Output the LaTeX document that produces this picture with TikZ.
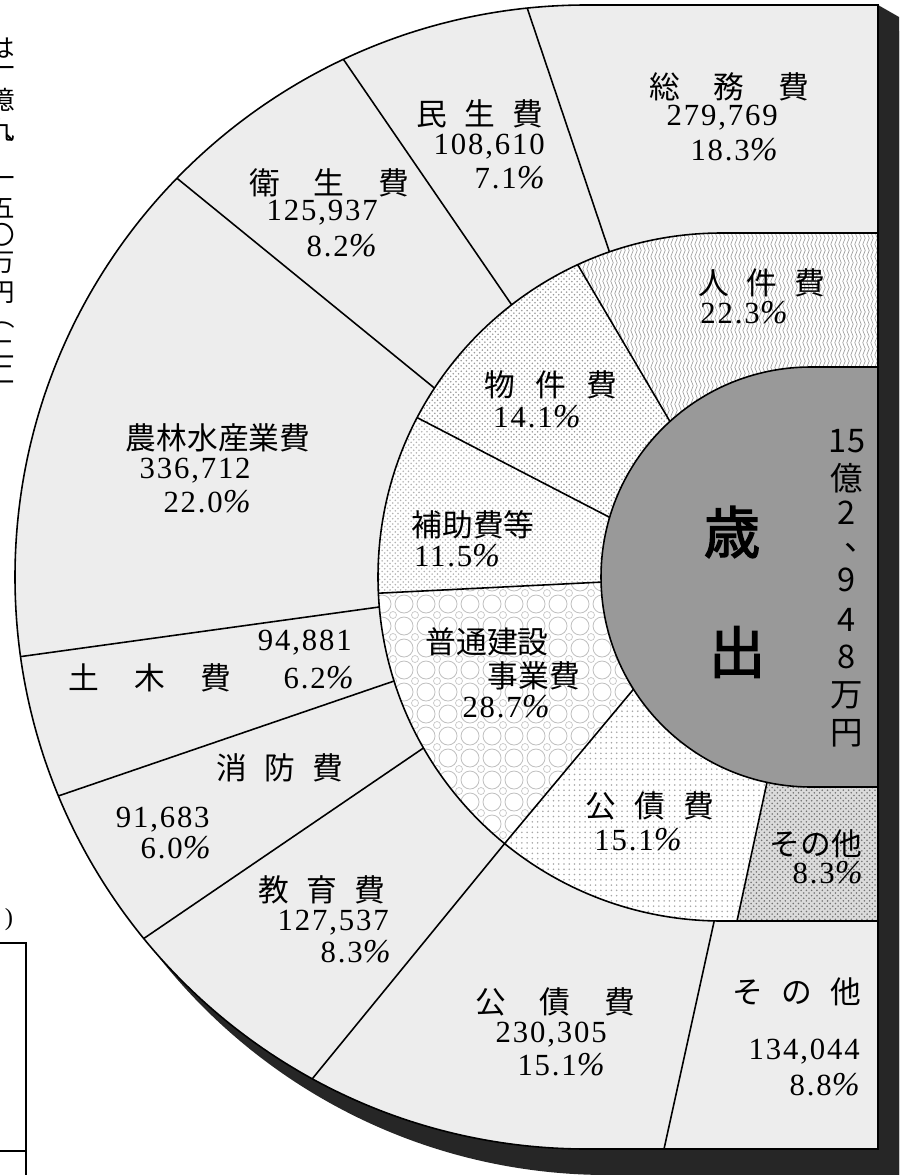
\documentclass[tikz,border=0pt]{standalone}
\usepackage{fontspec}
\setmainfont{Liberation Serif}
\newfontfamily\jp{Noto Sans CJK JP}
\newfontfamily\jpbold[FakeBold=2.5]{Noto Sans CJK JP}
\newfontfamily\numf[LetterSpace=6]{Liberation Serif}
\newcommand\pct{{\fontsize{19}{20}\selectfont\itshape\%}}
\usetikzlibrary{patterns,decorations.pathmorphing}

\def\pOuter{(878,5) -- (587,5) arc[start angle=270, end angle=90, radius=572] -- (878,1149) -- cycle}
\def\pMid{(878,233) -- (722,233) arc[start angle=270, end angle=90, radius=344] -- (878,921) -- cycle}
\def\pInner{(878,367) -- (811,367) arc[start angle=270, end angle=90, radius=210] -- (878,787) -- cycle}
\def\pJin{(878,233) -- (722,233) arc[start angle=270, end angle=245.2, radius=344] -- ([shift={(811,577)}]227.8:210) arc[start angle=227.8, end angle=270, radius=210] -- (878,367) -- cycle}
\def\pBukken{([shift={(722,577)}]245.2:344) arc[start angle=245.2, end angle=207.6, radius=344] -- ([shift={(811,577)}]196.5:210) arc[start angle=196.5, end angle=227.8, radius=210] -- cycle}
\def\pHojo{([shift={(722,577)}]207.6:344) arc[start angle=207.6, end angle=177.3, radius=344] -- ([shift={(811,577)}]178.6:210) arc[start angle=178.6, end angle=196.5, radius=210] -- cycle}
\def\pFutsu{([shift={(722,577)}]177.3:344) arc[start angle=177.3, end angle=129.2, radius=344] -- ([shift={(811,577)}]147.7:210) arc[start angle=147.7, end angle=178.6, radius=210] -- cycle}
\def\pKosai{([shift={(722,577)}]129.2:344) arc[start angle=129.2, end angle=90, radius=344] -- (737,921) -- ([shift={(811,577)}]102.1:210) arc[start angle=102.1, end angle=147.7, radius=210] -- cycle}
\def\pSonota{(737,921) -- (878,921) -- (878,787) -- (811,787) arc[start angle=90, end angle=102.1, radius=210] -- cycle}

\tikzset{
  lab/.style={font=\jp\fontsize{17.5}{20}\selectfont, inner sep=0pt},
  num/.style={font=\numf\fontsize{17.5}{20}\selectfont, inner sep=0pt},
  seg/.style={line width=0.9pt, draw=black},
  vtxt/.style={font=\jp\fontsize{18.5}{20}\selectfont, inner sep=0pt},
  lefttxt/.style={font=\jp\fontsize{14.5}{16}\selectfont, inner sep=0pt},
  big/.style={font=\jpbold\fontsize{32}{34}\selectfont, inner sep=0pt},
  shadowc/.style={fill=black!85},
  ringfill/.style={fill=black!7},
}

\begin{document}
\begin{tikzpicture}[x=0.02cm, y=-0.02cm]
\useasboundingbox (0,0) rectangle (908,1175);
\fill[white] (0,0) rectangle (908,1175);

% left cut-off column of text
\foreach \c/\yy [count=\i] in {は/48, 一/72, 億/100, 九/130, ︑/145, 一/182, 五/208, 〇/235, 万/263, 円/293, ︵/325, 二/350, 二/375}
  \node[lefttxt] (lt\i) at (2,\yy) {\c};
\node[font=\fontsize{14}{16}\selectfont, inner sep=0pt] (paren) at (9,920) {)};
\coordinate (bxA) at (0,943);
\coordinate (bxB) at (26,943);
\coordinate (bxC) at (26,1175);
\coordinate (bxD) at (0,1151);
\coordinate (bxE) at (26,1151);
\draw[line width=1pt] (bxA) -- (bxB) -- (bxC);
\draw[line width=1pt] (bxD) -- (bxE);

% shadow
\begin{scope}[shift={(21,26)}]
  \fill[shadowc] \pOuter;
\end{scope}
\fill[shadowc] (878,5) -- (899,17) -- (899,1175) -- (878,1175) -- cycle;

% outer ring
\fill[ringfill] \pOuter;
\draw[seg] \pOuter;

% middle ring segments
\begin{scope}
  \clip \pJin;
  \fill[white] (540,220) rectangle (890,480);
  \foreach \x in {560,564,...,884}
    \draw[black!40, line width=0.35pt, decorate, decoration={snake, amplitude=0.7pt, segment length=7pt}] (\x,222) -- (\x,480);
\end{scope}
\fill[white] \pBukken;
\fill[pattern=crosshatch dots, pattern color=black!40] \pBukken;
\fill[white] \pHojo;
\fill[pattern=crosshatch dots, pattern color=black!30] \pHojo;
\begin{scope}
  \clip \pFutsu;
  \fill[white] (360,560) rectangle (660,870);
  \foreach \x in {360,382,...,660}
    \foreach \y in {560,582,...,870} {
      \draw[black!25, line width=0.45pt] (\x,\y) circle[radius=9];
      \draw[black!22, line width=0.4pt] (\x+11,\y+11) circle[radius=3.5];
    }
\end{scope}
\fill[white] \pKosai;
\fill[pattern=dots, pattern color=black!35] \pKosai;
\fill[black!14] \pSonota;
\fill[pattern=crosshatch dots, pattern color=black!55] \pSonota;
\draw[seg] \pMid;

% inner
\fill[black!40] \pInner;
\draw[seg] \pInner;

% outer dividers
\coordinate (L1o) at ([shift={(587,577)}]264.0:572);
\coordinate (L1m) at ([shift={(722,577)}]250.9:344);
\coordinate (L2o) at ([shift={(587,577)}]244.8:572);
\coordinate (L2m) at ([shift={(722,577)}]232.3:344);
\coordinate (L3o) at ([shift={(587,577)}]224.2:572);
\coordinate (L3m) at ([shift={(722,577)}]213.3:344);
\coordinate (L4o) at ([shift={(587,577)}]172.0:572);
\coordinate (L4m) at ([shift={(722,577)}]175.0:344);
\coordinate (L5o) at ([shift={(587,577)}]157.5:572);
\coordinate (L5m) at ([shift={(722,577)}]162.4:344);
\coordinate (L6o) at ([shift={(587,577)}]140.8:572);
\coordinate (L6m) at ([shift={(722,577)}]150.2:344);
\coordinate (L7o) at ([shift={(587,577)}]118.7:572);
\coordinate (L7m) at ([shift={(722,577)}]129.2:344);
\coordinate (L8o) at (664,1149);
\coordinate (L8m) at ([shift={(722,577)}]91.3:344);
\foreach \k in {1,...,8} \draw[seg] (L\k o) -- (L\k m);

% middle dividers
\coordinate (m1a) at ([shift={(722,577)}]245.2:344);
\coordinate (m1b) at ([shift={(811,577)}]227.8:210);
\coordinate (m2a) at ([shift={(722,577)}]207.6:344);
\coordinate (m2b) at ([shift={(811,577)}]196.5:210);
\coordinate (m3a) at ([shift={(722,577)}]177.3:344);
\coordinate (m3b) at ([shift={(811,577)}]178.6:210);
\coordinate (m4a) at ([shift={(722,577)}]129.2:344);
\coordinate (m4b) at ([shift={(811,577)}]147.7:210);
\coordinate (m5a) at (737,921);
\coordinate (m5b) at ([shift={(811,577)}]102.1:210);
\foreach \k in {1,...,5} \draw[seg] (m\k a) -- (m\k b);

% outer labels
\node[lab] (tSomu) at (729,87) {総\hspace{1.1em}務\hspace{1.1em}費};
\node[num, anchor=east] (nSomu) at (778,118) {279,769};
\node[num, anchor=east] (pSomu) at (778,150) {18.3\pct};
\node[lab] (tMinsei) at (480,114) {民\hspace{0.55em}生\hspace{0.55em}費};
\node[num, anchor=east] (nMinsei) at (545,147) {108,610};
\node[num, anchor=east] (pMinsei) at (545,178) {7.1\pct};
\node[lab] (tEisei) at (329,183) {衛\hspace{1.1em}生\hspace{1.1em}費};
\node[num, anchor=east] (nEisei) at (378,213) {125,937};
\node[num, anchor=east] (pEisei) at (377,246) {8.2\pct};
\node[lab] (tNorin) at (218,438) {農林水産業費};
\node[num, anchor=east] (nNorin) at (251,471) {336,712};
\node[num, anchor=east] (pNorin) at (251,502) {22.0\pct};
\node[num, anchor=east] (nDoboku) at (352,643) {94,881};
\node[lab] (tDoboku) at (150,678) {土\hspace{1.15em}木\hspace{1.15em}費};
\node[num, anchor=east] (pDoboku) at (354,678) {6.2\pct};
\node[lab] (tShobo) at (280,768) {消\hspace{0.55em}防\hspace{0.55em}費};
\node[num, anchor=east] (nShobo) at (210,820) {91,683};
\node[num, anchor=east] (pShobo) at (211,848) {6.0\pct};
\node[lab] (tKyoiku) at (322,890) {教\hspace{0.55em}育\hspace{0.55em}費};
\node[num, anchor=east] (nKyoiku) at (389,923) {127,537};
\node[num, anchor=east] (pKyoiku) at (391,952) {8.3\pct};
\node[lab] (tKosaiO) at (555,1002) {公\hspace{1.1em}債\hspace{1.1em}費};
\node[num, anchor=east] (nKosaiO) at (607,1035) {230,305};
\node[num, anchor=east] (pKosaiO) at (605,1065) {15.1\pct};
\node[lab] (tSonotaO) at (797,992) {そ\hspace{0.6em}の\hspace{0.6em}他};
\node[num, anchor=east] (nSonotaO) at (860,1052) {134,044};
\node[num, anchor=east] (pSonotaO) at (860,1085) {8.8\pct};

% middle labels
\node[lab] (tJin) at (762,283) {人\hspace{0.55em}件\hspace{0.55em}費};
\node[num] (pJin) at (744,313) {22.3\pct};
\node[lab] (tBukken) at (551,385) {物\hspace{0.65em}件\hspace{0.65em}費};
\node[num] (pBukken) at (537,417) {14.1\pct};
\node[lab] (tHojo) at (473,525) {補助費等};
\node[num] (pHojo) at (457,556) {11.5\pct};
\node[lab] (tFutsu1) at (487,642) {普通建設};
\node[lab] (tFutsu2) at (534,676) {事業費};
\node[num, anchor=east] (pFutsu) at (550,707) {28.7\pct};
\node[lab] (tKosaiM) at (650,806) {公\hspace{0.6em}債\hspace{0.6em}費};
\node[num] (pKosaiM) at (638,840) {15.1\pct};
\node[lab] (tSonotaM) at (816,844) {その他};
\node[num, anchor=east] (pSonotaM) at (863,873) {8.3\pct};

% inner labels
\node[big] (tSai) at (732,532) {歳};
\node[big] (tShutsu) at (737,652) {出};
\foreach \c/\yy [count=\i] in {15/441, 億/478, 2/513, 9/580, 4/620, 8/657, 万/695, 円/733}
  \node[vtxt] (vt\i) at (847,\yy) {\c};
\node[vtxt] (vtc) at (861,550) {\smash{、}};
\end{tikzpicture}
\end{document}
